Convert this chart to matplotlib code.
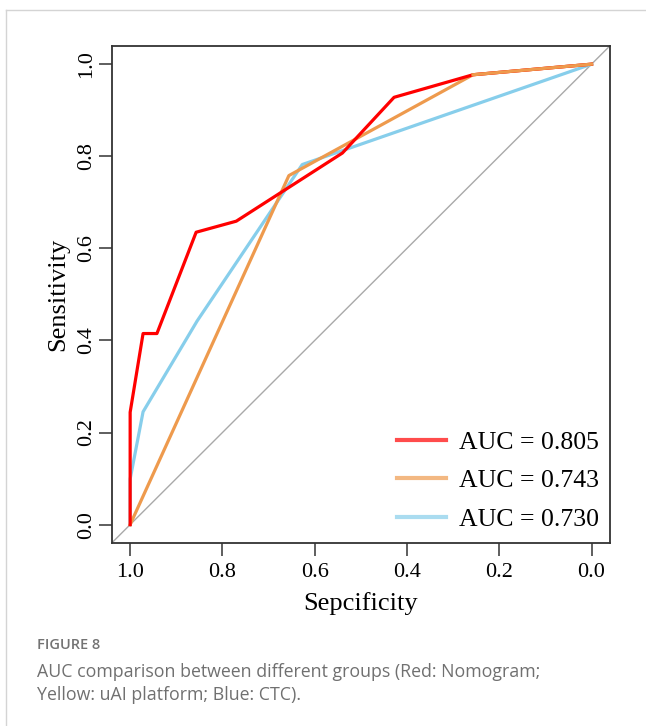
import matplotlib.pyplot as plt
import matplotlib.lines as mlines

# ROC points (specificity, sensitivity)
nomo_spec = [1.0, 1.0, 0.972, 0.942, 0.857, 0.770, 0.540, 0.428, 0.257, 0.0]
nomo_sens = [0.0, 0.244, 0.415, 0.415, 0.635, 0.659, 0.807, 0.928, 0.977, 1.0]

uai_spec = [1.0, 0.656, 0.257, 0.0]
uai_sens = [0.0, 0.758, 0.977, 1.0]

ctc_spec = [1.0, 1.0, 0.972, 0.855, 0.627, 0.0]
ctc_sens = [0.0, 0.099, 0.245, 0.442, 0.782, 1.0]

auc_labels = ["AUC = 0.805", "AUC = 0.743", "AUC = 0.730"]
colors = ["#FF0000", "#EE9A4D", "#87CEEB"]
ticks = [1.0, 0.8, 0.6, 0.4, 0.2, 0.0]

plt.rcParams["font.family"] = ["Liberation Serif", "DejaVu Serif"]

fig = plt.figure(figsize=(6.46, 7.26), dpi=100)
ax = fig.add_axes([0.1729, 0.252, 0.9443 - 0.1729, 0.937 - 0.252])

ax.set_xlim(1.04, -0.04)
ax.set_ylim(-0.04, 1.04)
ax.plot([1.04, -0.04], [-0.04, 1.04], color="#A9A9A9", lw=1.0, zorder=1)

ax.plot(ctc_spec, ctc_sens, color=colors[2], lw=2.3, zorder=2)
ax.plot(uai_spec, uai_sens, color=colors[1], lw=2.3, zorder=3)
ax.plot(nomo_spec, nomo_sens, color=colors[0], lw=2.3, zorder=4)
# orange drawn again on top only where it overlaps red at the top right
ax.plot(uai_spec[2:], uai_sens[2:], color=colors[1], lw=2.3, zorder=5)

ax.set_xticks(ticks)
ax.set_yticks(ticks)
ax.set_xticklabels([f"{t:.1f}" for t in ticks])
ax.set_yticklabels([f"{t:.1f}" for t in ticks], rotation=90, va="center")
ax.tick_params(axis="both", direction="out", length=9.5, width=1.1,
               labelsize=16, color="#333333")
ax.tick_params(axis="x", pad=5)
ax.tick_params(axis="y", pad=1.5)
for s in ax.spines.values():
    s.set_linewidth(1.3)
    s.set_color("#333333")

ax.set_xlabel("Sepcificity", fontsize=19, labelpad=7)
ax.set_ylabel("Sensitivity", fontsize=19, labelpad=6)

handles = [mlines.Line2D([], [], color=c, lw=3, alpha=0.7) for c in colors]
ax.legend(handles, auc_labels, loc="lower right", frameon=False,
          fontsize=18.5, handlelength=1.9, handletextpad=0.5,
          labelspacing=0.6, bbox_to_anchor=(1.024, -0.022))

# page frame and caption
fig.add_artist(mlines.Line2D([6 / 646, 6 / 646], [0, 1 - 10 / 726],
                             color="#D4D4D4", lw=1.0))
fig.add_artist(mlines.Line2D([6 / 646, 1], [1 - 10 / 726, 1 - 10 / 726],
                             color="#D4D4D4", lw=1.0))
fig.text(37 / 646, 1 - 645 / 726, "FIGURE 8", family="Open Sans",
         fontsize=10.5, color="#737373", va="center", fontweight="semibold")
fig.text(37 / 646, 1 - 672 / 726,
         "AUC comparison between different groups (Red: Nomogram;",
         family="Open Sans", fontsize=12.8, color="#707070", va="center")
fig.text(37 / 646, 1 - 695 / 726, "Yellow: uAI platform; Blue: CTC).",
         family="Open Sans", fontsize=12.8, color="#707070", va="center")

fig.savefig("out.png", dpi=100)
